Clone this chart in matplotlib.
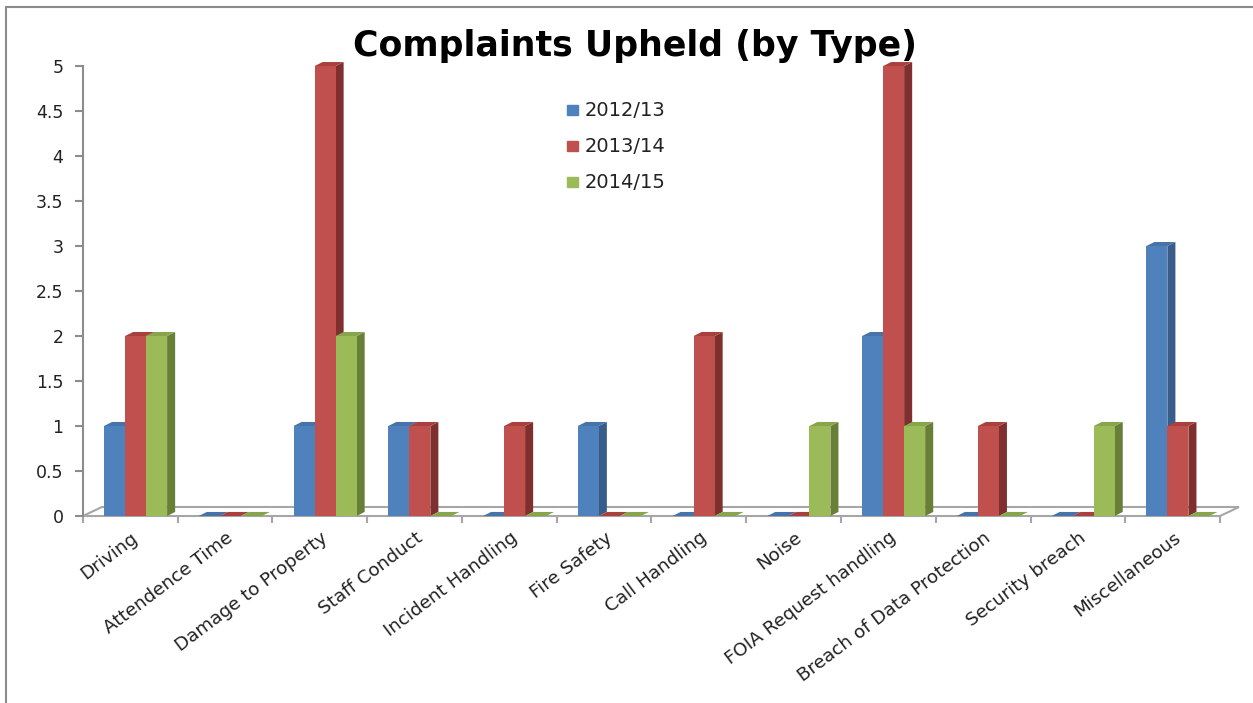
import matplotlib.pyplot as plt
from matplotlib.patches import Polygon, Rectangle

categories = ['Driving', 'Attendence Time', 'Damage to Property', 'Staff Conduct',
              'Incident Handling', 'Fire Safety', 'Call Handling', 'Noise',
              'FOIA Request handling', 'Breach of Data Protection',
              'Security breach', 'Miscellaneous']
years = ['2012/13', '2013/14', '2014/15']
upheld_1213 = [1, 0, 1, 1, 0, 1, 0, 0, 2, 0, 0, 3]
upheld_1314 = [2, 0, 5, 1, 1, 0, 2, 0, 5, 1, 0, 1]
upheld_1415 = [2, 0, 2, 0, 0, 0, 0, 1, 1, 0, 1, 0]
y_ticks = [0, 0.5, 1, 1.5, 2, 2.5, 3, 3.5, 4, 4.5, 5]

series = [upheld_1213, upheld_1314, upheld_1415]
face_cols = ['#4F81BD', '#C0504D', '#9BBB59']
top_cols = ['#4673A8', '#A9403E', '#87A64B']
side_cols = ['#385D8A', '#7F2F2D', '#687F38']

plt.rcParams['font.family'] = ['DejaVu Sans']

fig = plt.figure(figsize=(12.53, 7.03), dpi=100)
ax = fig.add_axes([0.0662, 0.266, 0.9075, 0.640])

# depth of the fake 3-D extrusion, in data units
dx, dy = 0.085, 0.045
w = 0.222

# floor of the chart
floor = Polygon([(0, 0), (12, 0), (12.2, 0.1), (0.2, 0.1)], closed=True,
                facecolor='white', edgecolor='#A6A6A6', lw=1.5, zorder=1,
                clip_on=False)
ax.add_patch(floor)

z = 2
for i in range(len(categories)):
    for j, vals in enumerate(series):
        v = vals[i]
        x0 = i + 0.222 + j * w
        x1 = x0 + w
        if v > 0:
            ax.bar(x0, v, width=w, align='edge', color=face_cols[j],
                   zorder=z + 1, clip_on=False)
            ax.add_patch(Polygon([(x1, 0), (x1 + dx, dy), (x1 + dx, v + dy), (x1, v)],
                                 closed=True, facecolor=side_cols[j], lw=0,
                                 zorder=z, clip_on=False))
        ax.add_patch(Polygon([(x0, v), (x1, v), (x1 + dx, v + dy), (x0 + dx, v + dy)],
                             closed=True, facecolor=top_cols[j], lw=0,
                             zorder=z + 2, clip_on=False))
        z += 3

ax.set_xlim(0, 12)
ax.set_ylim(0, 5)

for s in ['top', 'right', 'bottom']:
    ax.spines[s].set_visible(False)
ax.spines['left'].set_color('#8C8C8C')
ax.spines['left'].set_linewidth(1.5)

ax.set_yticks(y_ticks)
ax.set_yticklabels([f'{t:g}' for t in y_ticks], fontsize=12.5, color='#222222')
ax.tick_params(axis='y', length=6, width=1.5, color='#8C8C8C', pad=8)

ax.set_xticks(range(13))
ax.set_xticklabels([''] * 13)
ax.tick_params(axis='x', length=5, width=1.5, color='#A6A6A6')
for i, name in enumerate(categories):
    ax.text(i + 0.56, -0.22, name, rotation=37, rotation_mode='anchor',
            ha='right', va='center', fontsize=13.2, color='#222222')

# legend
for j, label in enumerate(years):
    yc = 1 - (110 + 36 * j) / 703
    fig.add_artist(Rectangle((567 / 1253, yc - 0.0078), 11 / 1253, 0.0156,
                             transform=fig.transFigure, color=face_cols[j]))
    fig.text(585 / 1253, yc, label, ha='left', va='center', fontsize=14,
             color='#222222')

fig.text(0.507, 0.935, 'Complaints Upheld (by Type)', ha='center', va='center',
         fontsize=25, fontweight='bold')

# outer frame
fig.add_artist(plt.Line2D([0.005, 0.005], [0, 0.990], color='#8C8C8C', lw=1.5))
fig.add_artist(plt.Line2D([0.005, 1], [0.990, 0.990], color='#8C8C8C', lw=1.5))

fig.savefig('out.png', dpi=100)
